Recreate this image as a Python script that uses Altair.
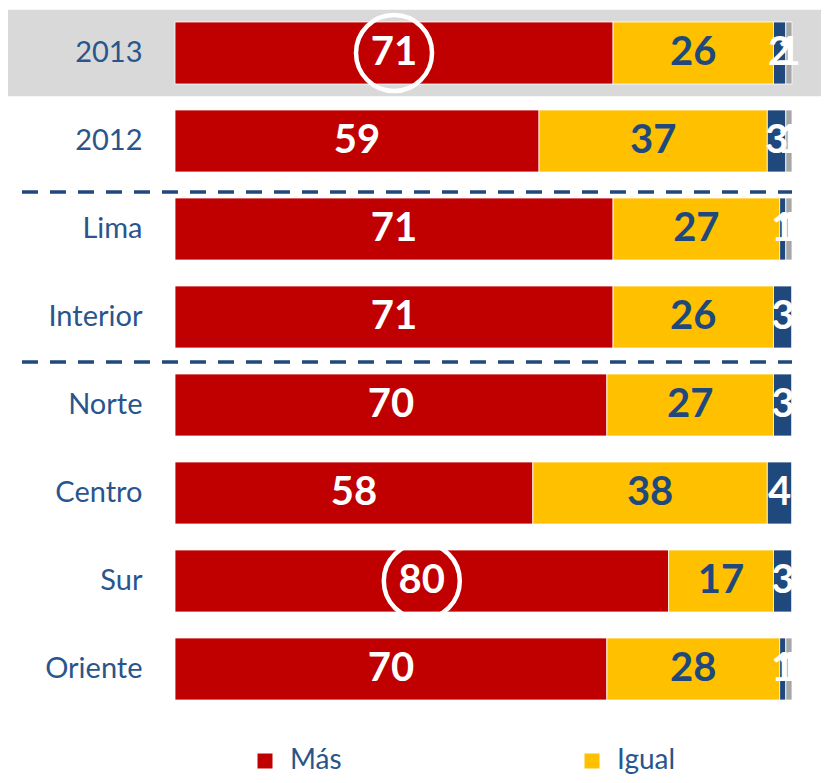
import altair as alt
import pandas as pd

categories = ["2013", "2012", "Lima", "Interior", "Norte", "Centro", "Sur", "Oriente"]
series = ["Más", "Igual", "Menos", "NS/NR"]
mas = [71, 59, 71, 71, 70, 58, 80, 70]
igual = [26, 37, 27, 26, 27, 38, 17, 28]
menos = [2, 3, 1, 3, 3, 4, 3, 1]
nsnr = [1, 1, 1, 0, 0, 0, 0, 1]
highlight = ["2013", "Sur"]
shaded = ["2013"]
separators_a = ["Lima"]
separators_b = ["Norte"]
legend_values = ["Más", "Igual"]

colors = ["#C00000", "#FFC000", "#1F497D", "#A6A6A6"]
DARK = "#1F497D"
LABEL = "#2A558C"
FONT = "Lato"

rows = []
for i, c in enumerate(categories):
    for j, vals in enumerate([mas, igual, menos, nsnr]):
        rows.append({"cat": c, "serie": series[j], "ord": j, "value": vals[i]})
df = pd.DataFrame(rows)

xscale = alt.Scale(domain=[0, 100], nice=False, zero=True)
yscale = alt.Scale(domain=categories, paddingInner=0.295, paddingOuter=0.1475)
yaxis = alt.Axis(domain=False, ticks=False, grid=False, labelFont=FONT, zindex=2,
                 labelFontSize=29, labelColor=LABEL, labelPadding=33)


def yenc(**kw):
    return alt.Y("cat:N", scale=yscale, axis=yaxis, title=None, **kw)


def xenc(field):
    return alt.X(field, type="quantitative", scale=xscale, axis=None)


band = alt.Chart(pd.DataFrame({"cat": shaded})).transform_calculate(
    xa="-27.2", xb="104.8"
).mark_bar(color="#D9D9D9", height={"band": 1.395}).encode(
    y=yenc(), x=xenc("xa"), x2="xb:Q"
)

bars = alt.Chart(df).mark_bar(stroke="white", strokeWidth=1, strokeOpacity=0.8).encode(
    x=alt.X("value:Q", stack="zero", scale=xscale, axis=None),
    y=yenc(),
    color=alt.Color(
        "serie:N",
        scale=alt.Scale(domain=series, range=colors),
        legend=alt.Legend(
            values=legend_values, orient="none", legendX=76, legendY=738,
            direction="horizontal", title=None, symbolType="square",
            symbolSize=225, symbolStrokeWidth=0, symbolOpacity=1,
            labelFont=FONT, labelFontSize=28, labelColor=LABEL,
            labelOffset=11, columnPadding=236, padding=0,
        ),
    ),
    order=alt.Order("ord:Q"),
)


def sep_rule(cats, off):
    return alt.Chart(pd.DataFrame({"cat": cats})).transform_calculate(
        xa="-24.8", xb="100"
    ).mark_rule(
        yOffset=off, color=DARK, strokeWidth=3.5, strokeDash=[16, 12]
    ).encode(y=yenc(bandPosition=0), x=xenc("xa"), x2="xb:Q")


rule_a = sep_rule(separators_a, -6)
rule_b = sep_rule(separators_b, -12)

stacked = alt.Chart(df).transform_stack(
    stack="value", as_=["x0", "x1"], groupby=["cat"],
    sort=[alt.SortField("ord", order="ascending")],
).transform_calculate(mid="(datum.x0 + datum.x1) / 2")

labels = stacked.transform_filter("datum.value > 0").mark_text(
    font=FONT, fontSize=40, fontWeight="bold", baseline="middle", align="center"
).encode(
    x=xenc("mid"),
    y=yenc(),
    text="value:Q",
    color=alt.condition("datum.serie == 'Igual'", alt.value(DARK), alt.value("white")),
)

circles = stacked.transform_filter("datum.serie == 'Más'").transform_filter(
    alt.FieldOneOfPredicate(field="cat", oneOf=highlight)
).mark_point(shape="circle", size=5776, filled=False, stroke="white", strokeWidth=4.5, opacity=1).encode(
    x=xenc("mid"),
    y=yenc(),
)

chart = alt.layer(band, bars, rule_a, rule_b, labels, circles).properties(
    width=617, height=704,
    autosize=alt.AutoSizeParams(type="none"),
    padding={"left": 167, "top": 1, "right": 29, "bottom": 62},
    background="white",
).configure_view(stroke=None)

chart.save("out.html", embed_options={"renderer": "svg", "actions": False})
